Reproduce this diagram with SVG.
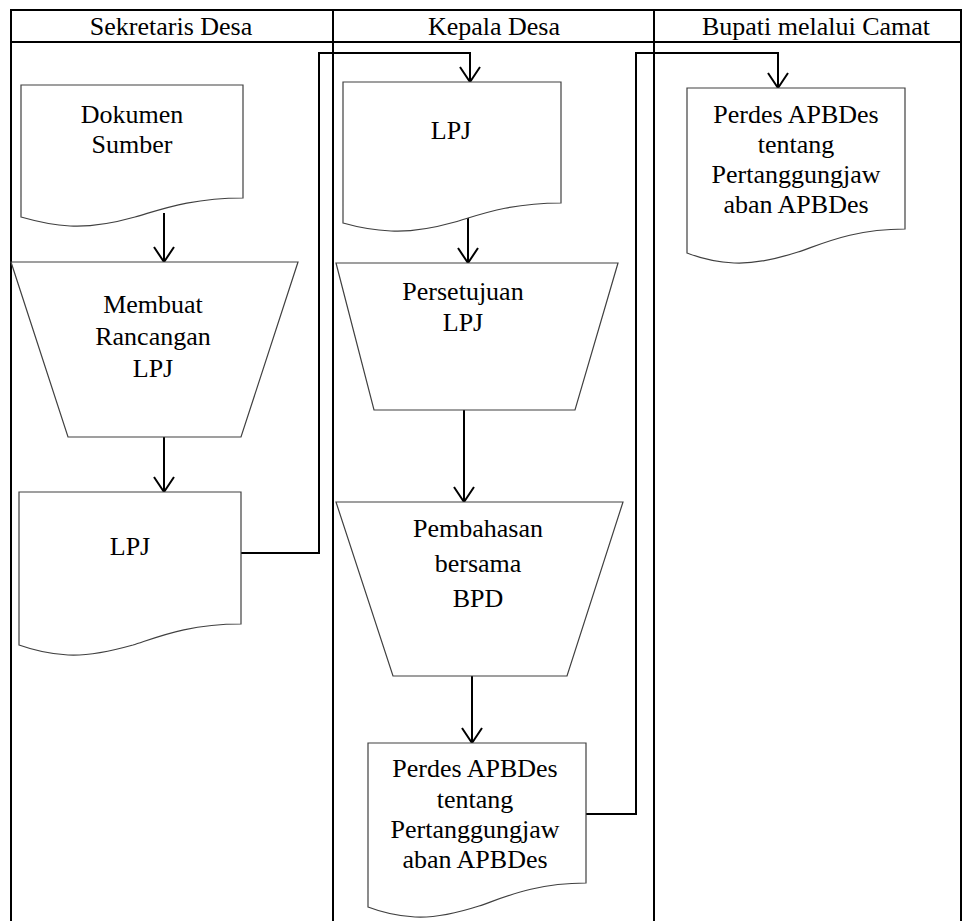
<svg xmlns="http://www.w3.org/2000/svg" width="963" height="921" viewBox="0 0 963 921">
  <style>
    .grid { stroke: #000; stroke-width: 2; fill: none; }
    .shape { fill: #fff; stroke: #404040; stroke-width: 1.2; }
    .flow { fill: none; stroke: #000; stroke-width: 2; }
    .lbl { font-family: 'Liberation Serif', serif; font-size: 26px; fill: #000; text-anchor: middle; }
  </style>
  <defs>
    <marker id="arrow" markerUnits="userSpaceOnUse" markerWidth="24" markerHeight="24" viewBox="-16 -12 20 24" refX="0" refY="0" orient="auto">
      <path d="M-15,-10 L0,0 L-15,10" fill="none" stroke="#000" stroke-width="2"/>
    </marker>
  </defs>
  <rect width="963" height="921" fill="#fff"/>

  <!-- swimlane table -->
  <g id="lanes">
    <line class="grid" x1="10" y1="10" x2="962" y2="10"/>
    <line class="grid" x1="10" y1="42" x2="962" y2="42"/>
    <line class="grid" x1="11" y1="9" x2="11" y2="921"/>
    <line class="grid" x1="333" y1="9" x2="333" y2="921"/>
    <line class="grid" x1="654" y1="9" x2="654" y2="921"/>
    <line class="grid" x1="961" y1="9" x2="961" y2="921"/>
    <text class="lbl" x="171" y="35">Sekretaris Desa</text>
    <text class="lbl" x="494" y="35">Kepala Desa</text>
    <text class="lbl" x="816" y="35">Bupati melalui Camat</text>
  </g>

  <!-- connectors -->
  <g id="connectors">
    <path class="flow" d="M164,213 V262" marker-end="url(#arrow)"/>
    <path class="flow" d="M164,437 V492" marker-end="url(#arrow)"/>
    <path class="flow" d="M241,553 H319 V53 H470 V82" marker-end="url(#arrow)"/>
    <path class="flow" d="M468,217 V263" marker-end="url(#arrow)"/>
    <path class="flow" d="M464,410 V502" marker-end="url(#arrow)"/>
    <path class="flow" d="M472,676 V743" marker-end="url(#arrow)"/>
    <path class="flow" d="M586,814 H636 V53 H778 V88" marker-end="url(#arrow)"/>
  </g>

  <!-- Sekretaris Desa lane -->
  <g id="dokumen-sumber">
    <path class="shape" d="M21,85 H243 V198 C190,198 160,210 135,217 C110,224 88,227 70,226 C50,225 35,221 21,217 Z"/>
    <text class="lbl" x="132" y="123">Dokumen</text>
    <text class="lbl" x="132" y="153">Sumber</text>
  </g>
  <g id="membuat-rancangan">
    <path class="shape" d="M11,262 H298 L241,437 H68 Z"/>
    <text class="lbl" x="153" y="313">Membuat</text>
    <text class="lbl" x="153" y="345">Rancangan</text>
    <text class="lbl" x="153" y="377">LPJ</text>
  </g>
  <g id="lpj-sekretaris">
    <path class="shape" d="M19,492 H241 V624 C188,624 158,637 133,645 C108,652 86,656 68,655 C48,654 33,650 19,645 Z"/>
    <text class="lbl" x="130" y="555">LPJ</text>
  </g>

  <!-- Kepala Desa lane -->
  <g id="lpj-kepala">
    <path class="shape" d="M343,82 H561 V203 C509,203 479,215 455,222 C430,229 409,232 391,231 C371,230 357,227 343,223 Z"/>
    <text class="lbl" x="451" y="139">LPJ</text>
  </g>
  <g id="persetujuan">
    <path class="shape" d="M336,263 H618 L575,410 H374 Z"/>
    <text class="lbl" x="463" y="300">Persetujuan</text>
    <text class="lbl" x="463" y="331">LPJ</text>
  </g>
  <g id="pembahasan">
    <path class="shape" d="M336,502 H623 L567,676 H393 Z"/>
    <text class="lbl" x="478" y="537">Pembahasan</text>
    <text class="lbl" x="478" y="572">bersama</text>
    <text class="lbl" x="478" y="607">BPD</text>
  </g>
  <g id="perdes-kepala">
    <path class="shape" d="M368,743 H586 V883 C534,883 503,898 479,906 C454,914 433,918 415,917 C395,916 381,912 368,907 Z"/>
    <text class="lbl" x="475" y="777">Perdes APBDes</text>
    <text class="lbl" x="475" y="808">tentang</text>
    <text class="lbl" x="475" y="838">Pertanggungjaw</text>
    <text class="lbl" x="475" y="868">aban APBDes</text>
  </g>

  <!-- Bupati melalui Camat lane -->
  <g id="perdes-bupati">
    <path class="shape" d="M687,88 H905 V229 C853,229 822,244 798,252 C773,260 752,264 734,263 C714,262 700,258 687,253 Z"/>
    <text class="lbl" x="796" y="123">Perdes APBDes</text>
    <text class="lbl" x="796" y="153">tentang</text>
    <text class="lbl" x="796" y="183">Pertanggungjaw</text>
    <text class="lbl" x="796" y="213">aban APBDes</text>
  </g>
</svg>
